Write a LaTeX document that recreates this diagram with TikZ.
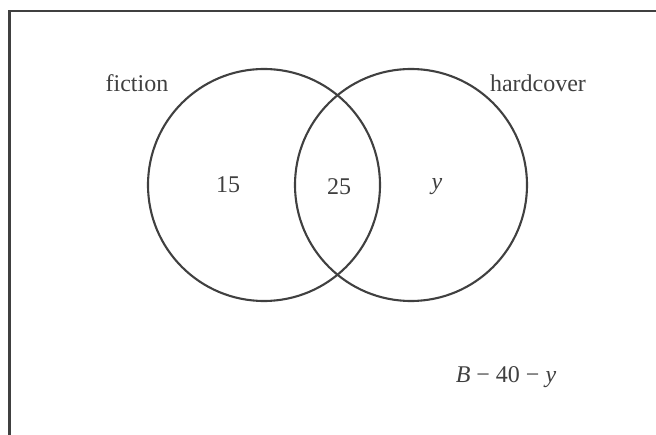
\documentclass[tikz,border=0pt]{standalone}
\usepackage{fontspec}
\setmainfont{Liberation Serif}
\usepackage{tikz}
\usetikzlibrary{positioning}
\definecolor{ink}{HTML}{404040}

\begin{document}
\begin{tikzpicture}[x=1pt,y=-1pt,
    setline/.style={draw=ink,line width=2.1pt},
    setlabel/.style={font=\fontsize{24}{28}\selectfont,text=ink,inner sep=0pt}]
  \useasboundingbox (0,0) rectangle (656,435);
  % frame (only top and left edges show)
  \draw[ink,line width=2.6pt] (9.5,435) -- (9.5,11) -- (656,11);

  % the two sets
  \draw[setline] (264,185) circle (116);
  \draw[setline] (411,185) circle (116);

  \node[setlabel] (fic) at (137,83) {fiction};
  \node[setlabel] (hard) at (538,83) {hardcover};

  \node[setlabel] (only) at (228,185) {15};
  \node[setlabel] (both) at (339,187) {25};
  \node[setlabel] (ycnt) at (437,187) {\textit{y}};
  \node[setlabel] (rest) at (506,377) {\textit{B} − 40 − \textit{y}};
\end{tikzpicture}
\end{document}
